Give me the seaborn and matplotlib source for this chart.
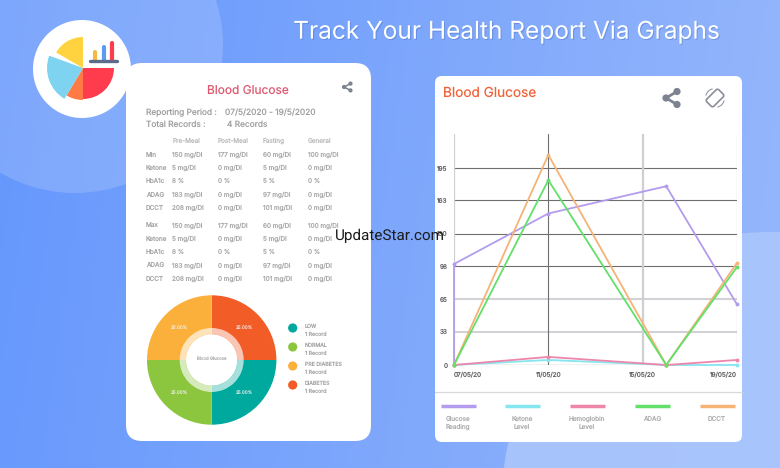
import numpy as np
import pandas as pd
import seaborn as sns
import matplotlib.pyplot as plt
import matplotlib.patheffects as pe
from matplotlib.colors import LinearSegmentedColormap
from matplotlib.patches import Circle, FancyBboxPatch, Wedge
from matplotlib.transforms import Affine2D

W, H = 780, 468

# line chart data
series_names = ['Glucose Reading', 'Ketone Level', 'Hemoglobin Level', 'ADAG', 'DCCT']
legend_labels = ['Glucose\nReading', 'Ketone\nLevel', 'Hemoglobin\nLevel', 'ADAG', 'DCCT']
series_colors = ['#b39ced', '#86e6f0', '#ee86ab', '#62e06a', '#f5b376']
days_glucose = [7, 7, 11, 16, 19]
days_other = [7, 11, 16, 19]
glucose = [0, 100, 150, 177, 60]
ketone = [0, 5, 0, 0]
hemoglobin = [0, 8, 0, 5]
adag = [0, 183, 0, 97]
dcct = [0, 208, 0, 101]
x_ticks = [7, 11, 15, 19]
x_tick_labels = ['07/05/20', '11/05/20', '15/05/20', '19/05/20']
y_ticks = [0, 33, 65, 98, 130, 163, 195]

# table text
table_head = ['Pre-Meal', 'Post-Meal', 'Fasting', 'General']
row_names = ['Min', 'Ketone', 'HbA1c', 'ADAG', 'DCCT', 'Max', 'Ketone', 'HbA1c', 'ADAG', 'DCCT']
pre_meal = ['150 mg/Dl', '5 mg/Dl', '8 %', '183 mg/Dl', '208 mg/Dl'] * 2
post_meal = ['177 mg/Dl', '0 mg/Dl', '0 %', '0 mg/Dl', '0 mg/Dl'] * 2
fasting = ['60 mg/Dl', '5 mg/Dl', '5 %', '97 mg/Dl', '101 mg/Dl'] * 2
general = ['100 mg/Dl', '0 mg/Dl', '0 %', '0 mg/Dl', '0 mg/Dl'] * 2

# donut
donut_names = ['DIABETES', 'LOW', 'NORMAL', 'PRE DIABETES']
donut_values = [25, 25, 25, 25]
donut_colors = ['#f25c26', '#00a99d', '#8cc63f', '#fbb03b']

sns.set_theme(style='white')
plt.rcParams['font.family'] = ['Inter', 'DejaVu Sans']
plt.rcParams['text.hinting'] = 'no_hinting'

fig = plt.figure(figsize=(W / 100, H / 100), dpi=100)


def px_axes(x0, y0, x1, y1):
    return fig.add_axes([x0 / W, 1 - y1 / H, (x1 - x0) / W, (y1 - y0) / H])


# background
bg = fig.add_axes([0, 0, 1, 1])
gx, gy = np.meshgrid(np.linspace(0, 1, 200), np.linspace(0, 1, 120))
blues = LinearSegmentedColormap.from_list('blues', ['#6597fd', '#96b7fb'])
bg.imshow(0.92 * gx + 0.08 * gy, extent=[0, W, H, 0], aspect='auto', cmap=blues, zorder=0)
bg.set_xlim(0, W)
bg.set_ylim(H, 0)
bg.axis('off')
bg.add_patch(Circle((75, 45), 148, fc='white', alpha=0.16, ec='none', zorder=1))
bg.add_patch(Circle((770, 500), 268, fc='#abc6fd', alpha=0.9, ec='none', zorder=1))


def card(x0, y0, x1, y1, r):
    bg.add_patch(FancyBboxPatch((x0, y0), x1 - x0, y1 - y0,
                                boxstyle=f'round,pad=0,rounding_size={r}',
                                fc='white', ec='none', zorder=3))


card(126, 63, 371, 441, 16)
card(435, 76, 742, 442, 7)

bg.text(506.5, 32, 'Track Your Health Report Via Graphs', color='white', fontsize=17.6,
        ha='center', va='center', zorder=5,
        path_effects=[pe.withSimplePatchShadow(offset=(0.8, -0.8), shadow_rgbFace='#3f66b8', alpha=0.35)])

# logo
lc = (83, 68)
bg.add_patch(Circle((82, 69), 49, fc='white', ec='none', zorder=4))
bg.add_patch(Wedge(lc, 31, 0, 90, fc='#ff3b4e', ec='none', zorder=5))
bg.add_patch(Wedge(lc, 32, 90, 121, fc='#ff7a45', ec='none', zorder=5))
bg.add_patch(Wedge(lc, 36, 121, 200, fc='#7dd3f0', ec='none', zorder=5))
bg.add_patch(Wedge(lc, 31, 210, 270, fc='#ffd23f', ec='none', zorder=5))
for bx, by, c in [(95, 52, '#f5b942'), (103.5, 47, '#5b9bf0'), (112, 43, '#ff3b4e')]:
    bg.plot([bx, bx], [by, 60], color=c, lw=3, solid_capstyle='round', zorder=6)
bg.plot([90, 117], [61, 61], color='#5a6b8c', lw=2.4, solid_capstyle='round', zorder=6)


def share_icon(x_left, x_right, cy, dy, r, color):
    pts = [(x_left, cy), (x_right, cy - dy), (x_right, cy + dy)]
    bg.plot([x_right, x_left, x_right], [cy - dy, cy, cy + dy], color=color, lw=r * 0.55, zorder=6)
    for p in pts:
        bg.add_patch(Circle(p, r, fc=color, ec='none', zorder=6))


share_icon(344, 350.5, 87, 3.4, 2.1, '#7d8290')
share_icon(666, 677, 98, 6.5, 3.6, '#7d8290')

# rotate icon on the chart card
rot = Affine2D().rotate_deg_around(715, 98, 45) + bg.transData
bg.add_patch(FancyBboxPatch((710, 89.5), 10, 17, boxstyle='round,pad=0,rounding_size=2',
                            fc='none', ec='#8a8e98', lw=1.2, transform=rot, zorder=6))
bg.add_patch(Wedge((715, 98), 10, 195, 255, width=1, fc='#8a8e98', ec='none', zorder=6))
bg.add_patch(Wedge((715, 98), 10, 15, 75, width=1, fc='#8a8e98', ec='none', zorder=6))

# left card text
bg.text(248, 91, 'Blood Glucose', color='#dd5a72', fontsize=8.6, ha='center', va='center', zorder=5)
txt = '#a0a0a0'
bg.text(146, 113, 'Reporting Period :', color=txt, fontsize=6, va='center', zorder=5)
bg.text(225, 113, '07/5/2020 - 19/5/2020', color=txt, fontsize=6, va='center', zorder=5)
bg.text(146, 125, 'Total Records :', color=txt, fontsize=6, va='center', zorder=5)
bg.text(227, 125, '4 Records', color=txt, fontsize=6, va='center', zorder=5)

col_x = [172.5, 218, 263, 308]
row_y = [155, 168, 181, 195, 208, 225.5, 239, 252, 265.5, 279]
for x, h in zip(col_x, table_head):
    bg.text(x, 141, h, color='#bdbdbd', fontsize=4.6, va='center', zorder=5)
for i, y in enumerate(row_y):
    bg.text(146, y, row_names[i], color='#a8a8a8', fontsize=4.6, va='center', zorder=5)
    for x, col in zip(col_x, [pre_meal, post_meal, fasting, general]):
        bg.text(x, y, col[i], color='#ababab', fontsize=4.6, va='center', zorder=5)

# donut
cx, cy, R = 211.7, 360, 64.7
dax = px_axes(cx - R, cy - R, cx + R, cy + R)
dax.patch.set_alpha(0)
wedges, texts, autotexts = dax.pie(donut_values, colors=donut_colors, startangle=90, counterclock=False,
                                   radius=1, wedgeprops=dict(width=1 - 25.7 / R, lw=0),
                                   autopct='%.2f%%', pctdistance=0.71,
                                   textprops=dict(color='#f0f0f0', fontsize=3.3, alpha=0.85))
dax.pie([1], colors=['white'], radius=32 / R, wedgeprops=dict(width=(32 - 25.7) / R, lw=0, alpha=0.65))
dax.set_xlim(-1, 1)
dax.set_ylim(-1, 1)
dax.text(0, 0.02, 'Blood Glucose', color='#b5b5b5', fontsize=3.1, ha='center', va='center')

legend_y = [328, 347, 366, 385]
for y, i in zip(legend_y, [1, 2, 3, 0]):
    bg.add_patch(Circle((292.7, y), 4.6, fc=donut_colors[i], ec='none', zorder=5))
    bg.text(305, y - 1.3, donut_names[i], color='#a8a8a8', fontsize=3.8, va='center', zorder=5)
    bg.text(305, y + 6, '1 Record', color='#a8a8a8', fontsize=3.8, va='center', zorder=5)

# line chart
frames = []
for name, xs, ys in [('Glucose Reading', days_glucose, glucose), ('Ketone Level', days_other, ketone),
                     ('Hemoglobin Level', days_other, hemoglobin), ('DCCT', days_other, dcct),
                     ('ADAG', days_other, adag)]:
    frames.append(pd.DataFrame({'day': xs, 'value': ys, 'series': name}))
df = pd.concat(frames, ignore_index=True)

ax = px_axes(454, 134, 737, 365)
ax.patch.set_alpha(0)
for s in ax.spines.values():
    s.set_visible(False)
ax.set_xlim(7, 19)
ax.set_ylim(0, 231 / 1.01)
for y in y_ticks[1:]:
    if y >= 98:
        ax.axhline(y, color='#6e6e6e', lw=0.8, zorder=1)
    else:
        ax.axhline(y, color='#d2d2d6', lw=1.5, zorder=1)
ax.axhline(0, color='#b5b5b8', lw=1, zorder=1)
for x, c, lw in [(7, '#cfcfd2', 1.6), (11, '#6e6e6e', 0.8), (15, '#cfcfd2', 1.6), (19, '#8a8a8a', 0.8)]:
    ax.axvline(x, color=c, lw=lw, zorder=1)
sns.lineplot(data=df, x='day', y='value', hue='series', palette=dict(zip(series_names, series_colors)),
             estimator=None, sort=False, marker='o', markersize=2.8, markeredgewidth=0, linewidth=1.3,
             legend=False, ax=ax, zorder=3, clip_on=False)
ax.set_xlabel('')
ax.set_ylabel('')
ax.set_xticks(x_ticks)
ax.set_xticklabels(x_tick_labels, fontsize=4.6, color='#666666')
for lab, ha in zip(ax.get_xticklabels(), ['left', 'center', 'center', 'right']):
    lab.set_ha(ha)
ax.set_yticks(y_ticks)
ax.set_yticklabels(y_ticks, fontsize=4.6, color='#666666')
ax.tick_params(length=0, pad=4.5)

bg.text(443, 93, 'Blood Glucose', color='#f0633a', fontsize=9.8, va='center', zorder=5)
bg.plot([435, 742], [392, 392], color='#d8d8d8', lw=0.9, zorder=5)
leg_x = [458, 522, 587, 652, 717]
for x, c, lab in zip(leg_x, series_colors, legend_labels):
    bg.plot([x - 17.5, x + 17.5], [406, 406], color=c, lw=2.5, solid_capstyle='butt', zorder=5)
    bg.text(x, 423 if '\n' in lab else 419, lab, color='#b0b0b0', fontsize=4.6, ha='center', va='center',
            linespacing=1.35, zorder=5)

fig.text(390 / W, 1 - 236 / H, 'UpdateStar.com', color='#1c1c1c', fontsize=11, family='Roboto',
         ha='center', va='center', zorder=20)

fig.savefig('out.png', dpi=100)
